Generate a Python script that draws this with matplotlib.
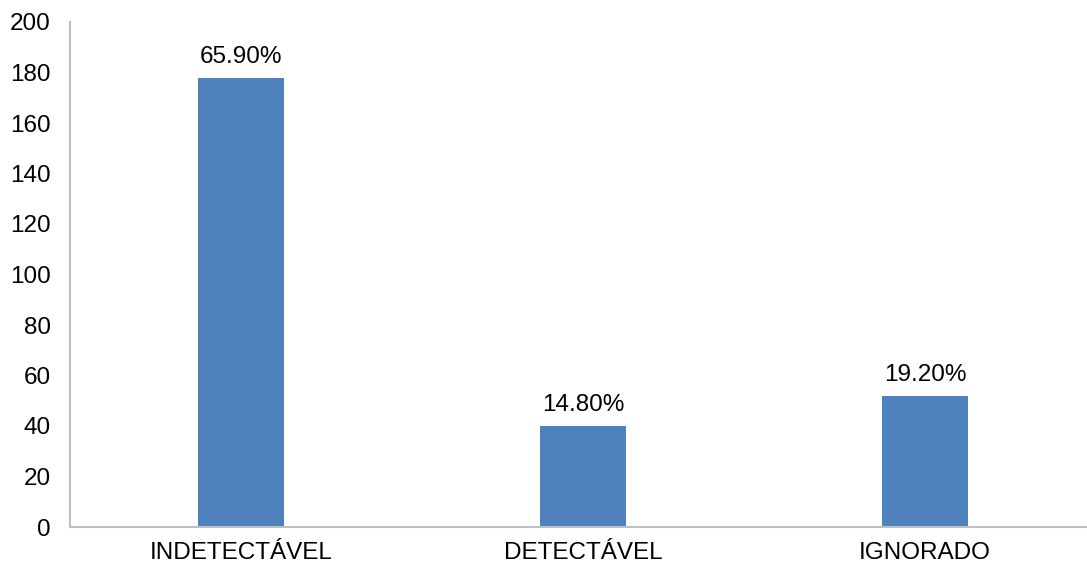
import matplotlib
matplotlib.use("Agg")
from matplotlib import pyplot as plt

categorias = ["INDETECTÁVEL", "DETECTÁVEL", "IGNORADO"]
valores = [178, 40, 52]
rotulos = ["65.90%", "14.80%", "19.20%"]

plt.rcParams['font.family'] = ['Liberation Sans', 'DejaVu Sans']

fig = plt.figure(figsize=(10.87, 5.66), dpi=100)
ax = fig.add_axes([70 / 1087, 39 / 566, 1026 / 1087, 505 / 566])

x = range(len(categorias))
barras = ax.bar(x, valores, width=0.25, color='#4f81bd')
for b, r in zip(barras, rotulos):
    ax.annotate(r, (b.get_x() + b.get_width() / 2, b.get_height()),
                xytext=(0, 7), textcoords='offset points',
                ha='center', va='bottom', fontsize=17.5)

ax.set_xlim(-0.5, 2.5)
ax.set_ylim(0, 200)
ax.set_yticks(range(0, 201, 20))
ax.set_xticks(list(x))
ax.set_xticklabels(categorias)
ax.tick_params(axis='both', length=0, labelsize=17.5)
ax.tick_params(axis='y', pad=14)
ax.tick_params(axis='x', pad=11)

for lado in ['top', 'right']:
    ax.spines[lado].set_visible(False)
for lado in ['left', 'bottom']:
    ax.spines[lado].set_color('#bfbfbf')
    ax.spines[lado].set_linewidth(1.5)

fig.savefig("out.png", dpi=100)
